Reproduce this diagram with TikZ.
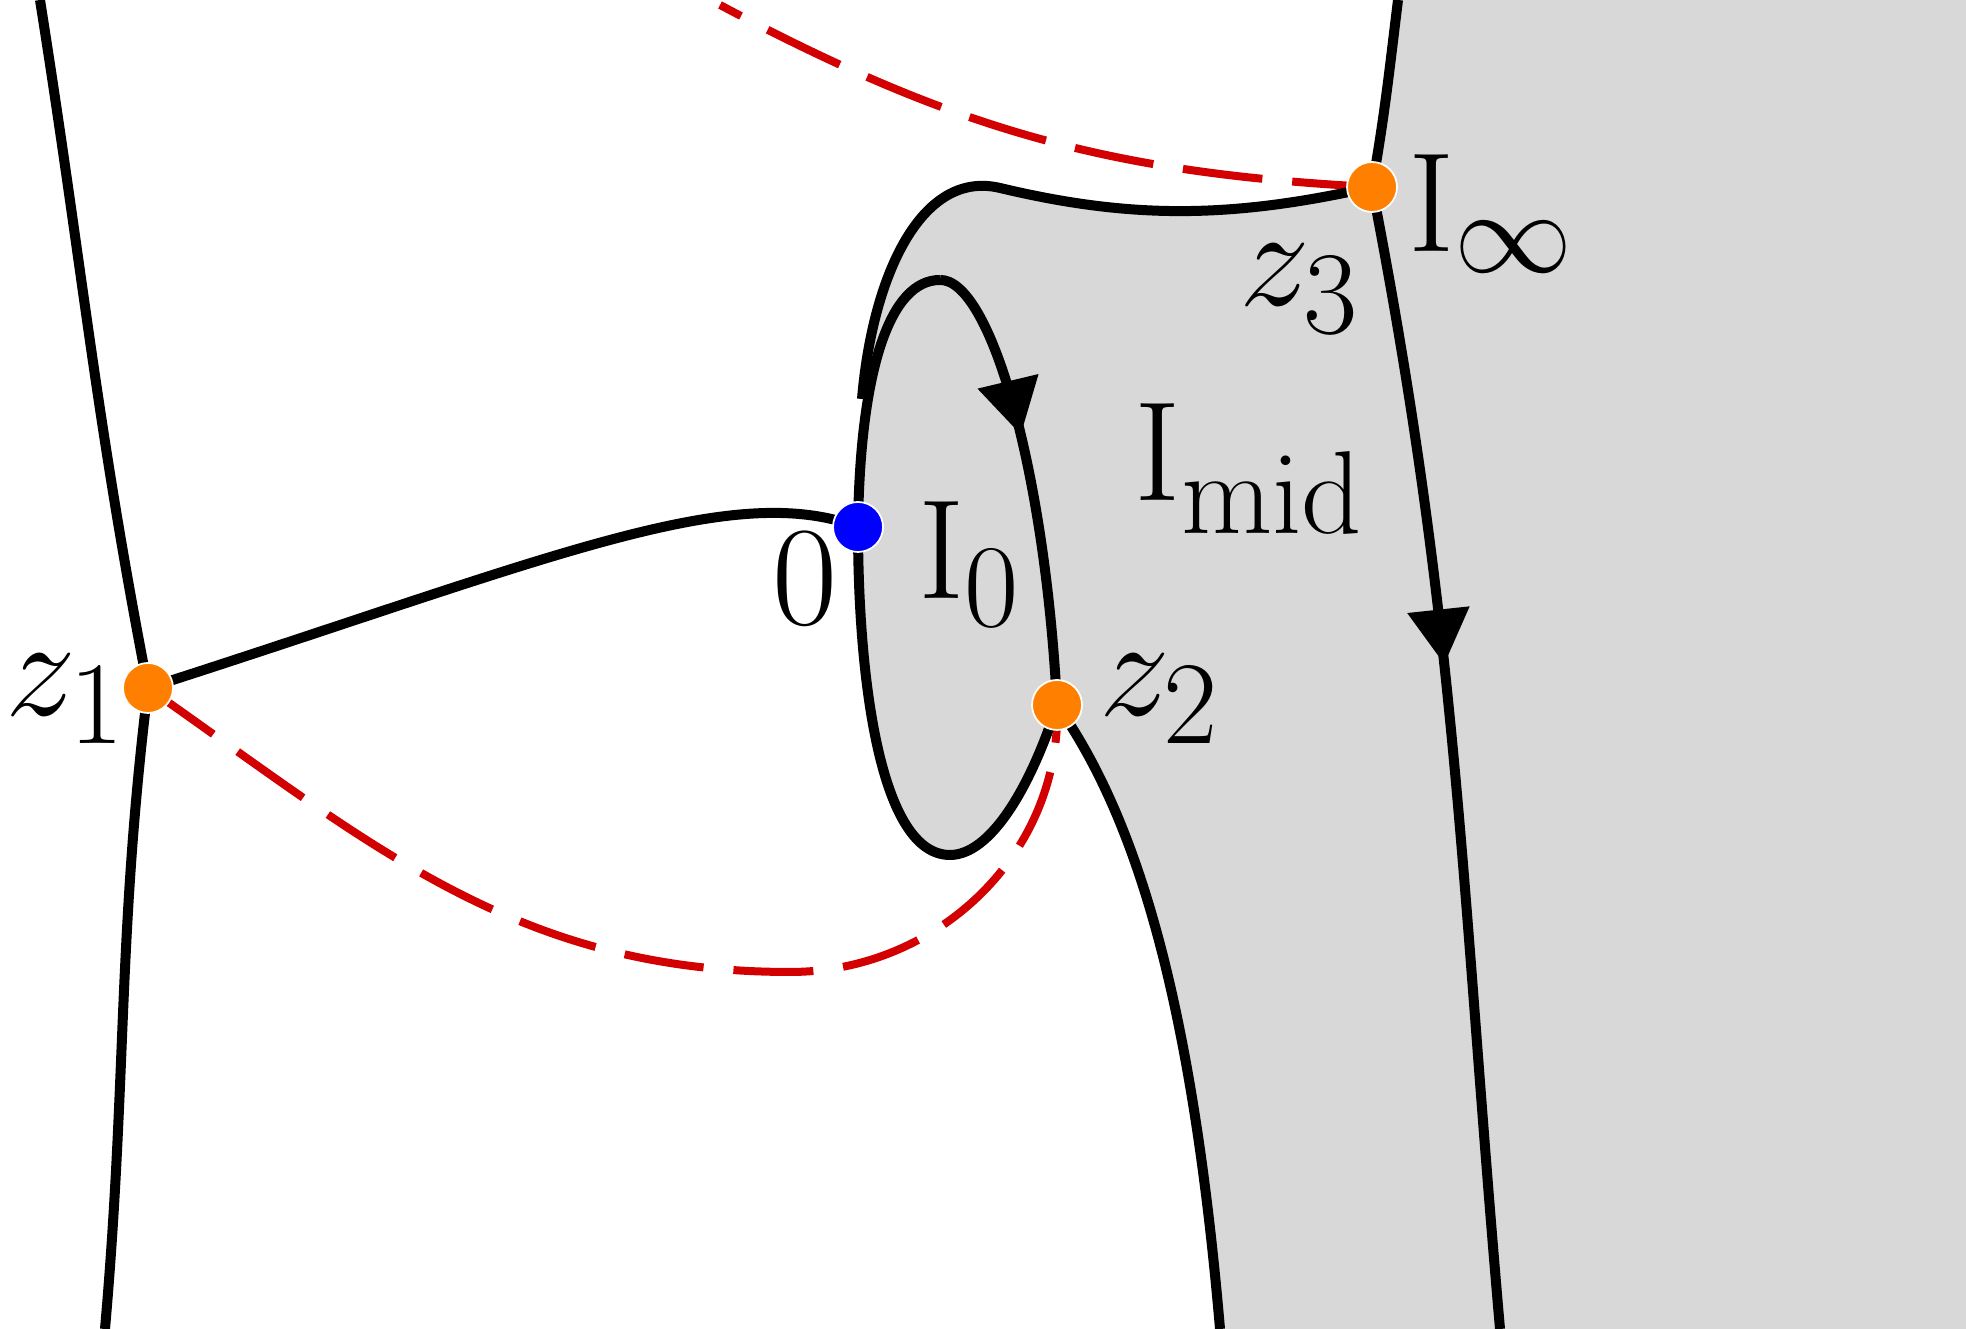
\documentclass[tikz,border=0pt]{standalone}
\usetikzlibrary{arrows.meta,decorations.markings}
\definecolor{dashred}{RGB}{210,0,0}
\definecolor{dotorange}{RGB}{255,128,0}
\definecolor{regiongrey}{RGB}{216,216,216}
\newcommand{\biglabel}[1]{\scalebox{1.62}{\Huge$#1$}}
\tikzset{
   curve/.style={line width=0.1cm, black},
   cut/.style={line width=0.08cm, dashred, dash pattern=on 0.8cm off 0.3cm},
   pt/.style={circle, fill=#1, draw=white, line width=0.5pt, minimum size=0.5cm, inner sep=0pt},
   lab/.style={inner sep=0pt},
   marked/.style={postaction={decorate}, decoration={markings,
      mark=at position #1 with {\arrow{Triangle[length=0.55cm,width=0.6cm]}}}}
}
\begin{document}
\begin{tikzpicture}
   \useasboundingbox (0,0) rectangle (19.66,13.29);
   % grey region
   \fill[regiongrey] (13.98,13.29) -- (13.72,11.42)
      .. controls (12.3,11.1) and (11.3,11.1) .. (10.0,11.41)
      .. controls (9.2,11.6) and (8.75,10.5) .. (8.64,9.3)
      -- (9.5,8) -- (10.57,6.24) .. controls (11.3,5.2) and (11.9,3.5) .. (12.2,0)
      -- (19.66,0) -- (19.66,13.29) -- cycle;
   \fill[regiongrey] (8.58,8.02) .. controls (8.6,9.6) and (8.9,10.49) .. (9.40,10.49)
      .. controls (9.9,10.5) and (10.45,8.6) .. (10.57,6.24)
      .. controls (10.3,5.4) and (9.9,4.74) .. (9.5,4.74)
      .. controls (8.8,4.74) and (8.58,6.5) .. cycle;
   % cuts
   \draw[cut] (13.72,11.42) to[out=177,in=-28] (7.2,13.24);
   \draw[cut] (1.48,6.41) to[out=-35,in=180] (7.9,3.57) to[out=0,in=-88] (10.57,6.24);
   % curves
   \draw[curve] (0.40,13.29) to[out=-81,in=101] (1.48,6.41) to[out=-97,in=85] (1.05,0);
   \draw[curve] (1.48,6.41) .. controls (5.5,7.7) and (7.3,8.5) .. (8.58,8.02);
   \draw[curve] (8.58,8.02) .. controls (8.6,9.6) and (8.9,10.49) .. (9.40,10.49);
   \draw[curve, marked=0.4] (9.40,10.49) .. controls (9.9,10.5) and (10.45,8.6) .. (10.57,6.24);
   \draw[curve] (10.57,6.24) .. controls (10.3,5.4) and (9.9,4.74) .. (9.5,4.74)
      .. controls (8.8,4.74) and (8.58,6.5) .. (8.58,8.02);
   \draw[curve] (13.72,11.42) .. controls (12.3,11.1) and (11.3,11.1) .. (10.0,11.41)
      .. controls (9.2,11.6) and (8.72,10.5) .. (8.62,9.3);
   \draw[curve] (13.98,13.29) to[out=-97,in=80] (13.72,11.42);
   \draw[curve, marked=0.42] (13.72,11.42) to[out=-79,in=95] (15.0,0);
   \draw[curve] (10.57,6.24) .. controls (11.3,5.2) and (11.9,3.5) .. (12.2,0);
   % points
   \def \Points {
      z1/1.48/6.41/dotorange,
      zero/8.58/8.02/blue,
      z2/10.57/6.24/dotorange,
      z3/13.72/11.42/dotorange}
   \foreach \u / \x / \y / \c in \Points {
      \node[pt=\c] (\u) at (\x, \y){};
   }
   % labels
   \node[lab] (lz1) at (0.66,6.3) {\biglabel{z_1}};
   \node[lab] (lzero) at (8.05,7.5) {\biglabel{0}};
   \node[lab] (lz2) at (11.6,6.3) {\biglabel{z_2}};
   \node[lab] (lz3) at (13.0,10.4) {\biglabel{z_3}};
   \node[lab] (linf) at (14.92,11.15) {\biglabel{\mathrm{I}_\infty}};
   \node[lab] (lmid) at (12.5,8.6) {\biglabel{\mathrm{I}_{\mathrm{mid}}}};
   \node[lab] (lnull) at (9.7,7.65) {\biglabel{\mathrm{I}_0}};
\end{tikzpicture}
\end{document}
